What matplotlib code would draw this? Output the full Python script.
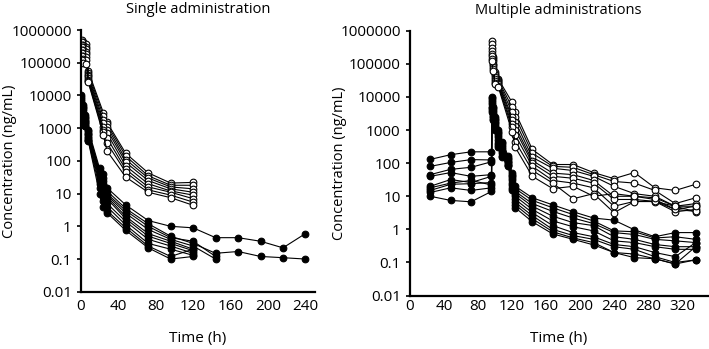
import numpy as np
import matplotlib
matplotlib.use("Agg")
import matplotlib.pyplot as plt
from matplotlib.ticker import FixedLocator, FixedFormatter

plt.rcParams["font.family"] = ["Open Sans", "DejaVu Sans"]

# ── DATA: single administration ──────────────────────────────────
single_open_t = [1, 2, 6, 8, 24, 28, 48, 72, 96, 120]
single_open = [
    [500000, 420000, 380000, 55000, 3000, 1500, 170, 43, 21, 22],
    [420000, 350000, 300000, 48000, 2400, 1300, 140, 35, 18, 18],
    [350000, 300000, 260000, 42000, 1800, 1100, 110, 30, 16, 14],
    [300000, 250000, 220000, 38000, 1400, 900, 90, 25, 14, 11],
    [250000, 200000, 180000, 33000, 1100, 700, 70, 20, 12, 9],
    [200000, 160000, 150000, 30000, 900, 500, 55, 16, 11, 7],
    [160000, 130000, 120000, 27000, 750, 350, 45, 13, 9, 5.5],
    [120000, 100000, 90000, 25000, 640, 200, 32, 11, 7.5, 4.4],
]

single_filled_t = [0.5, 2, 4, 8, 20, 24, 28, 48, 72, 96, 120, 144, 168, 192, 216, 240]
single_filled = [
    [10000, 5000, 2500, 900, 60, 40, 15, 4.5, 1.5, 1.0, 0.9, 0.45, 0.45, 0.35, 0.22, 0.6],
    [9000, 4500, 2200, 800, 50, 30, 12, 3.5, 1.2, 0.5, 0.3, 0.15, 0.17, 0.12, 0.11, 0.1],
    [8000, 4000, 2000, 700, 45, 25, 10, 3.0, 1.0, 0.45, 0.35, 0.12],
    [7000, 3500, 1800, 650, 40, 20, 9, 2.5, 0.8, 0.4, 0.25, 0.1],
    [6000, 3000, 1600, 600, 35, 18, 8, 2.0, 0.6, 0.35, 0.2],
    [5000, 2800, 1500, 550, 30, 15, 7, 1.7, 0.5, 0.3, 0.18],
    [4500, 2500, 1400, 500, 25, 12, 5, 1.4, 0.4, 0.25, 0.15],
    [4000, 2200, 1300, 450, 20, 8, 4, 1.1, 0.3, 0.2, 0.13],
    [3800, 2000, 1200, 420, 15, 6, 3, 0.9, 0.25, 0.12, 0.2],
    [3500, 1800, 1200, 400, 10, 4, 2.6, 0.75, 0.22, 0.1, 0.12],
]

# ── DATA: multiple administrations ───────────────────────────────
multi_open_t = [96.5, 98, 100, 104, 120, 124, 144, 168, 192, 216, 240, 264, 288, 312, 336]
multi_open = [
    [500000, 160000, 55000, 35000, 7000, 3400, 260, 91, 91, 52, 34, 52, 18, 15, 23],
    [400000, 140000, 50000, 32000, 5000, 2500, 200, 80, 75, 45, 28, 25, 15, 6, 9],
    [300000, 120000, 45000, 30000, 3500, 1800, 150, 70, 60, 40, 20, 12, 10, 5, 6],
    [250000, 100000, 40000, 28000, 2500, 1300, 120, 50, 45, 30, 10, 10, 8, 4, 5],
    [200000, 90000, 35000, 26000, 2000, 1000, 100, 40, 35, 25, 8, 8, 7, 3.4, 4],
    [170000, 80000, 30000, 24000, 1500, 700, 80, 30, 25, 18, 5, 7, 6.9, 5, 3.4],
    [140000, 70000, 27000, 22000, 1200, 450, 60, 25, 8.4, 12, 3.2, 6.9, 7, 4, 3.5],
    [120000, 60000, 24000, 20000, 900, 300, 40, 17, 20, 10, 12, 10, 9, 5, 5],
]

multi_filled_t = [24, 48, 72, 96, 96.5, 98, 100, 104, 108, 116, 120, 124,
                  144, 168, 192, 216, 240, 264, 288, 312, 336]
multi_filled = [
    [130, 180, 220, 220, 10000, 5000, 2500, 1000, 450, 160, 50, 20, 9, 5.5, 3.4, 2.2, 1.9, 0.97, 0.6, 0.8, 0.8],
    [80, 105, 128, 125, 9000, 4500, 2200, 900, 400, 140, 45, 17, 7.5, 4.5, 2.8, 1.8, 0.9, 0.85, 0.55, 0.6, 0.5],
    [45, 65, 75, 110, 8000, 4000, 2000, 800, 350, 130, 40, 14, 6, 3.5, 2.2, 1.5, 0.8, 0.7, 0.5, 0.45, 0.4],
    [40, 52, 40, 45, 7000, 3500, 1800, 700, 300, 120, 35, 12, 5, 2.5, 1.6, 1.3, 0.6, 0.5, 0.35, 0.3, 0.3],
    [20, 32, 26, 40, 6000, 3000, 1600, 600, 260, 110, 30, 10, 4, 1.8, 1.2, 0.9, 0.45, 0.4, 0.3, 0.25, 0.25],
    [15, 23, 24, 26, 5000, 2700, 1400, 500, 230, 100, 26, 8, 3.2, 1.3, 0.8, 0.6, 0.35, 0.3, 0.2, 0.15, 0.4],
    [13, 18, 15, 18, 4500, 2400, 1200, 420, 200, 90, 22, 6.5, 2.6, 1.0, 0.65, 0.5, 0.3, 0.25, 0.15, 0.1, 0.12],
    [10, 7.5, 6.8, 14, 4000, 2200, 1100, 350, 170, 85, 18, 5.5, 2.1, 0.85, 0.55, 0.4, 0.2, 0.18, 0.13, 0.09, 0.12],
    [18, 25, 30, 22, 3400, 2000, 1000, 300, 150, 80, 15, 4.5, 1.7, 0.73, 0.5, 0.34, 0.2, 0.14, 0.13, 0.09, 0.3],
]

y_ticks = [0.01, 0.1, 1, 10, 100, 1000, 10000, 100000, 1000000]
y_labels = ["0.01", "0.1", "1", "10", "100", "1000", "10000", "100000", "1000000"]
x_ticks_single = [0, 40, 80, 120, 160, 200, 240]
x_ticks_multi = [0, 40, 80, 120, 160, 200, 240, 280, 320]

# ── FIGURE ───────────────────────────────────────────────────────
fig = plt.figure(figsize=(7.09, 3.49), dpi=100)
ax1 = fig.add_axes([0.114, 0.164, 0.330, 0.750])
ax2 = fig.add_axes([0.578, 0.153, 0.420, 0.759])

line_kw = dict(color="black", linewidth=0.8, marker="o", markersize=4.8,
               markeredgecolor="black", markeredgewidth=0.8)


def draw(ax, open_t, open_vals, filled_t, filled_vals):
    for vals in open_vals:
        ax.plot(open_t[:len(vals)], vals, markerfacecolor="white", **line_kw)
    for vals in filled_vals:
        ax.plot(filled_t[:len(vals)], vals, markerfacecolor="black", **line_kw)


draw(ax1, single_open_t, single_open, single_filled_t, single_filled)
draw(ax2, multi_open_t, multi_open, multi_filled_t, multi_filled)

panels = [
    # ax, x ticks, x max, title, x tick pad, xlabel y, ylabel x
    (ax1, x_ticks_single, 250, "Single administration", 5, -0.150, -0.272),
    (ax2, x_ticks_multi, 350, "Multiple administrations", 2.5, -0.133, -0.210),
]
for ax, xt, xmax, title, xpad, xly, ylx in panels:
    ax.set_yscale("log")
    ax.set_ylim(0.01, 1000000)
    ax.set_xlim(0, xmax)
    ax.yaxis.set_major_locator(FixedLocator(y_ticks))
    ax.yaxis.set_major_formatter(FixedFormatter(y_labels))
    ax.yaxis.set_minor_locator(FixedLocator([]))
    ax.set_xticks(xt)
    ax.set_xticklabels([str(v) for v in xt])
    ax.tick_params(axis="y", length=3, width=1.2, labelsize=11, pad=3.5)
    ax.tick_params(axis="x", length=0, labelsize=11, pad=xpad)
    for s in ["top", "right"]:
        ax.spines[s].set_visible(False)
    for s in ["left", "bottom"]:
        ax.spines[s].set_linewidth(1.6)
    ax.set_xlabel("Time (h)", fontsize=11)
    ax.xaxis.set_label_coords(0.5, xly)
    ax.set_ylabel("Concentration (ng/mL)", fontsize=10.5)
    ax.yaxis.set_label_coords(ylx, 0.5)
    ax.set_title(title, fontsize=10.5, pad=12)

fig.savefig("out.png", dpi=100)
